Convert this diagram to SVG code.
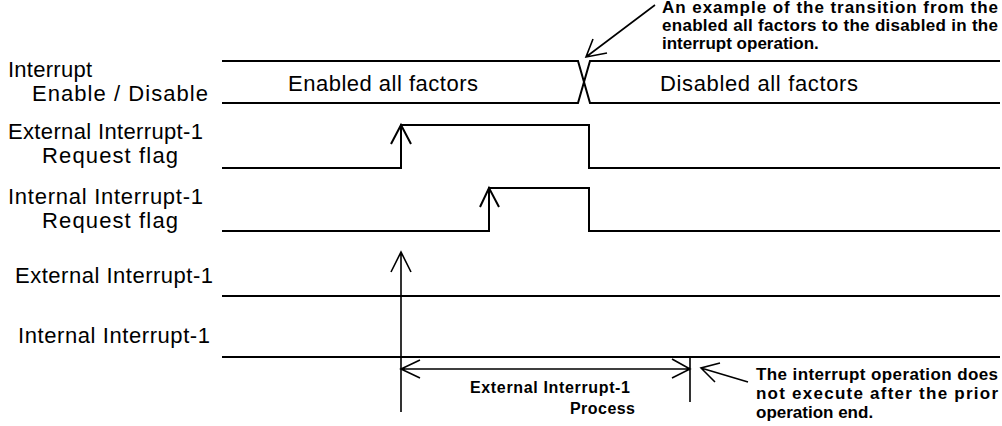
<svg xmlns="http://www.w3.org/2000/svg" width="1002" height="426" viewBox="0 0 1002 426">
<style>
.lbl{font-family:"Liberation Sans",Arial,sans-serif;font-size:22px;fill:#000}
.band{font-family:"Liberation Sans",Arial,sans-serif;font-size:22px;fill:#000}
.note{font-family:"Liberation Sans",Arial,sans-serif;font-size:17px;font-weight:bold;fill:#000}
.small{font-family:"Liberation Sans",Arial,sans-serif;font-size:16px;font-weight:bold;fill:#000}
.sig{fill:none;stroke:#000;stroke-width:2}
.thin{fill:none;stroke:#000;stroke-width:1.6}
</style>
<rect width="1002" height="426" fill="#fff"/>
<g id="labels">
<text class="lbl" x="8" y="77" textLength="84" lengthAdjust="spacing">Interrupt</text>
<text class="lbl" x="32" y="101" textLength="176" lengthAdjust="spacing">Enable / Disable</text>
<text class="lbl" x="8" y="139" textLength="195" lengthAdjust="spacing">External Interrupt-1</text>
<text class="lbl" x="42" y="163" textLength="136" lengthAdjust="spacing">Request flag</text>
<text class="lbl" x="8" y="204" textLength="195" lengthAdjust="spacing">Internal Interrupt-1</text>
<text class="lbl" x="42" y="228" textLength="136" lengthAdjust="spacing">Request flag</text>
<text class="lbl" x="15" y="283" textLength="198" lengthAdjust="spacing">External Interrupt-1</text>
<text class="lbl" x="18" y="343" textLength="192" lengthAdjust="spacing">Internal Interrupt-1</text>
</g>
<g id="enable-band">
<path class="sig" d="M222,61 H578 L590,103 H1000 M222,103 H578 L590,61 H1000"/>
<text class="band" x="288" y="91" textLength="190" lengthAdjust="spacing">Enabled all factors</text>
<text class="band" x="660" y="91" textLength="198" lengthAdjust="spacing">Disabled all factors</text>
</g>
<g id="ext-flag">
<path class="sig" d="M222,168 H401 V125 H589 V168 H1000"/>
</g>
<g id="int-flag">
<path class="sig" d="M222,231 H489 V188 H589 V231 H1000"/>
</g>
<g id="ext-int">
<path class="sig" d="M222,296 H1000"/>
</g>
<g id="int-int">
<path class="sig" d="M222,357 H1000"/>
</g>
<g id="note-top">
<text class="note" x="662" y="13" textLength="336" lengthAdjust="spacing">An example of the transition from the</text>
<text class="note" x="662" y="31" textLength="336" lengthAdjust="spacing">enabled all factors to the disabled in the</text>
<text class="note" x="662" y="49">interrupt operation.</text>
</g>
<g id="note-bottom">
<text class="note" x="756" y="380" textLength="242" lengthAdjust="spacing">The interrupt operation does</text>
<text class="note" x="756" y="399" textLength="242" lengthAdjust="spacing">not execute after the prior</text>
<text class="note" x="756" y="418">operation end.</text>
</g>
<g id="process-label">
<text class="small" x="470" y="393" textLength="160" lengthAdjust="spacing">External Interrupt-1</text>
<text class="small" x="570" y="414" textLength="65" lengthAdjust="spacing">Process</text>
</g>
<g id="connectors">
<path class="sig" d="M391,144 L401,125 L411,144"/>
<path class="sig" d="M480,207 L489,188 L499,207"/>
<path class="thin" d="M401,412 V252 M391,272 L401,252 L411,272"/>
<path class="thin" d="M401,369 H690 M420,360 L401,369 L420,378 M672,359 L690,369 L672,378 M690,357 V402"/>
<path class="thin" d="M748,382 L701,368 M720,363 L701,368 L715,382"/>
<path class="thin" d="M655,5 L586,57 M593,39 L586,57 L607,53"/>
</g>
</svg>
